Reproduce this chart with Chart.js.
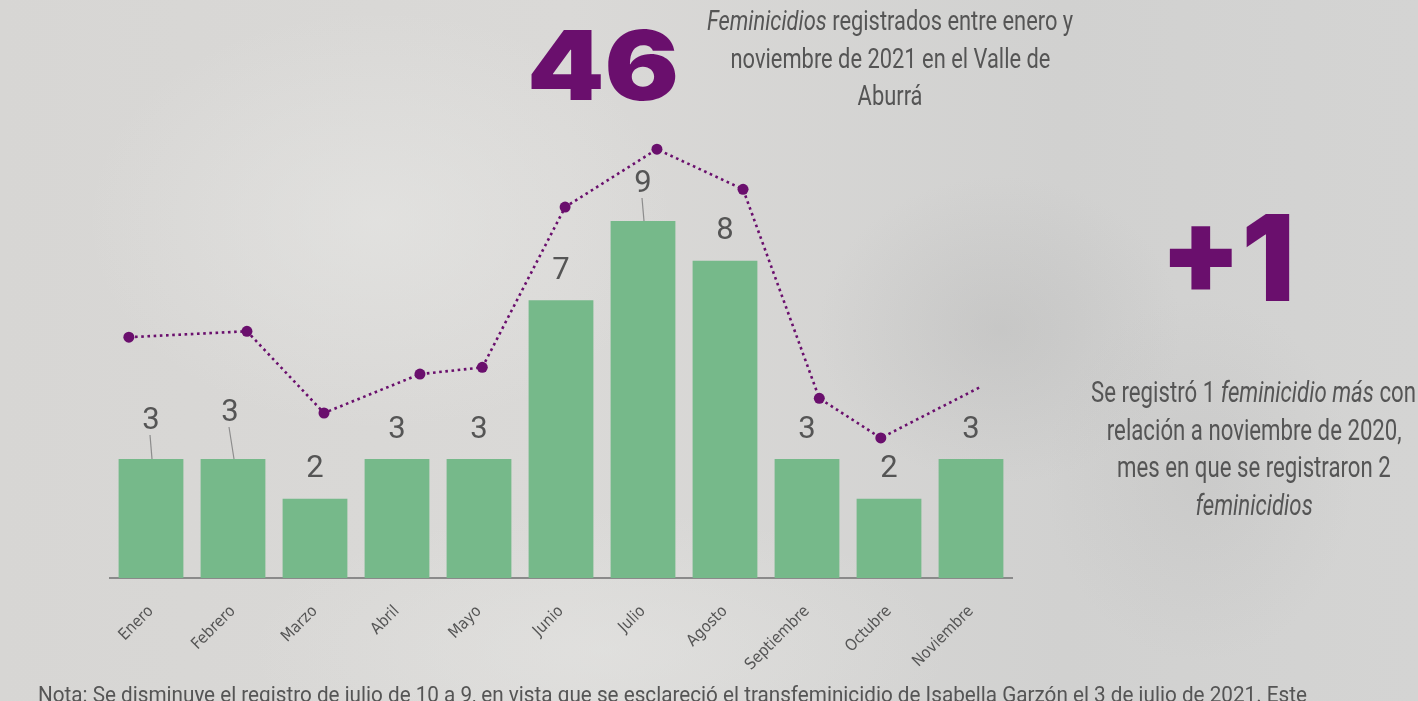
<!DOCTYPE html>
<html lang="es">
<head>
<meta charset="utf-8">
<title>Feminicidios Valle de Aburrá 2021</title>
<script src="https://cdn.jsdelivr.net/npm/chart.js@4.4.1/dist/chart.umd.min.js"></script>
<style>
    html, body {
        margin: 0;
        padding: 0;
        width: 1418px;
        height: 701px;
        overflow: hidden;
    }
    body {
        position: relative;
        font-family: Roboto, sans-serif;
        color: #555;
        background:
            radial-gradient(ellipse 260px 220px at 1000px 330px, rgba(170,170,170,0.28), rgba(170,170,170,0) 70%),
            radial-gradient(ellipse 220px 260px at 1200px 480px, rgba(175,175,175,0.22), rgba(175,175,175,0) 70%),
            radial-gradient(ellipse 420px 300px at 380px 220px, rgba(232,232,230,0.55), rgba(232,232,230,0) 70%),
            radial-gradient(ellipse 500px 200px at 600px 650px, rgba(230,230,228,0.5), rgba(230,230,228,0) 70%),
            linear-gradient(90deg, #d7d6d4 0%, #dad9d7 40%, #d1d1d0 75%, #d4d4d3 100%);
    }
    #chart-wrap {
        position: absolute;
        left: 0;
        top: 0;
        width: 1418px;
        height: 701px;
    }
    .big {
        position: absolute;
        font-family: Inter, Lato, 'DejaVu Sans', sans-serif;
        font-weight: 900;
        color: #6a0f6d;
        line-height: 1;
        transform-origin: left top;
    }
    .big-46 {
        left: 527px;
        top: 17px;
        font-size: 96px;
        transform: scaleX(1.15);
    }
    .big-plus {
        left: 1160px;
        top: 198px;
        font-size: 120px;
        transform: scaleX(0.98);
    }
    .block {
        position: absolute;
        width: 600px;
        text-align: center;
        color: #555;
    }
    .block div {
        white-space: nowrap;
    }
    .block span.ln {
        display: inline-block;
        transform-origin: center;
    }
    .block-top {
        left: 590px;
        top: 3px;
        font-size: 27px;
        line-height: 37.5px;
    }
    .block-top span.ln {
        transform: scaleX(0.81);
    }
    .block-right {
        left: 954px;
        top: 373px;
        font-size: 30px;
        line-height: 37.5px;
    }
    .block-right span.ln {
        transform: scaleX(0.74);
    }
    .nota {
        position: absolute;
        left: 38px;
        top: 682px;
        font-size: 22px;
        white-space: nowrap;
        color: #555;
        transform: scaleX(0.94);
        transform-origin: left top;
    }
</style>
</head>
<body>
<div id="chart-wrap"><canvas id="feminicidiosChart"></canvas></div>

<div class="big big-46">46</div>
<div class="block block-top">
    <div><span class="ln"><i>Feminicidios</i> registrados entre enero y</span></div>
    <div><span class="ln">noviembre de 2021 en el Valle de</span></div>
    <div><span class="ln">Aburrá</span></div>
</div>

<div class="big big-plus">+1</div>
<div class="block block-right">
    <div><span class="ln">Se registró 1 <i>feminicidio más</i> con</span></div>
    <div><span class="ln">relación a noviembre de 2020,</span></div>
    <div><span class="ln">mes en que se registraron 2</span></div>
    <div><span class="ln"><i>feminicidios</i></span></div>
</div>

<div class="nota">Nota: Se disminuye el registro de julio de 10 a 9, en vista que se esclareció el transfeminicidio de Isabella Garzón el 3 de julio de 2021. Este</div>

<script>
// data srt
const meses = ['Enero', 'Febrero', 'Marzo', 'Abril', 'Mayo', 'Junio', 'Julio', 'Agosto', 'Septiembre', 'Octubre', 'Noviembre'];
const casos2021 = [3, 3, 2, 3, 3, 7, 9, 8, 3, 2, 3];

// dotted decorative trend line (x in month index units, y in bar units)
const lineaX = [-0.27, 1.17, 2.11, 3.28, 4.04, 5.05, 6.17, 7.22, 8.15, 8.90, 10.11];
const lineaY = [6.07, 6.22, 4.16, 5.14, 5.31, 9.35, 10.81, 9.80, 4.53, 3.53, 4.81];
// data end

const purple = '#6a0f6d';
const barGreen = '#76b98a';
const textGrey = '#555555';

const lineaPuntos = lineaX.map((x, i) => ({ x: x, y: lineaY[i] }));

// labels above bars, some lifted with a little leader line
const labelTweaks = {
    0: { lift: 9, dx: 0, leader: true },
    1: { lift: 17, dx: -3, leader: true },
    6: { lift: 8, dx: 0, leader: true }
};

const barLabels = {
    id: 'barLabels',
    afterDatasetsDraw(chart) {
        const ctx = chart.ctx;
        const meta = chart.getDatasetMeta(0);
        ctx.save();
        ctx.font = '31px Roboto, sans-serif';
        ctx.fillStyle = textGrey;
        ctx.textAlign = 'center';
        ctx.textBaseline = 'middle';
        meta.data.forEach((bar, i) => {
            const t = labelTweaks[i] || { lift: 0, dx: 0, leader: false };
            const lx = bar.x + t.dx;
            const ly = bar.y - 29 - t.lift;
            ctx.fillText(String(casos2021[i]), lx, ly);
            if (t.leader) {
                ctx.strokeStyle = '#8c8c8c';
                ctx.lineWidth = 1.2;
                ctx.beginPath();
                ctx.moveTo(lx - 1, ly + 14);
                ctx.lineTo(bar.x + 1, bar.y);
                ctx.stroke();
            }
        });
        ctx.restore();
    }
};

const ctx = document.getElementById('feminicidiosChart').getContext('2d');

const chart = new Chart(ctx, {
    type: 'bar',
    data: {
        labels: meses,
        datasets: [
            {
                label: '2021',
                data: casos2021,
                backgroundColor: barGreen,
                borderWidth: 0,
                grouped: false,
                barPercentage: 0.79,
                categoryPercentage: 1,
                order: 2
            },
            {
                type: 'line',
                label: 'tendencia',
                data: lineaPuntos,
                xAxisID: 'x2',
                borderColor: purple,
                borderWidth: 2.6,
                borderDash: [2.6, 3.6],
                pointBackgroundColor: purple,
                pointBorderWidth: 0,
                pointRadius: lineaX.map((x, i) => i === lineaX.length - 1 ? 0 : 5.5),
                tension: 0,
                fill: false,
                order: 1
            }
        ]
    },
    options: {
        responsive: true,
        maintainAspectRatio: false,
        animation: false,
        layout: {
            padding: { left: 110, right: 406, top: 102, bottom: 23 }
        },
        plugins: {
            legend: { display: false },
            tooltip: { enabled: false }
        },
        scales: {
            x: {
                type: 'category',
                offset: true,
                grid: { display: false },
                border: { color: '#8a8a8a', width: 2 },
                ticks: {
                    color: textGrey,
                    maxRotation: 45,
                    minRotation: 45,
                    padding: 16,
                    font: { family: "'Liberation Sans Narrow', 'DejaVu Sans Condensed', Roboto, sans-serif", size: 16 }
                },
                afterFit(scale) {
                    scale.height = 100;
                }
            },
            x2: {
                type: 'linear',
                display: false,
                offset: false,
                min: -0.5,
                max: 10.5
            },
            y: {
                display: false,
                min: 0,
                max: 12
            }
        }
    },
    plugins: [barLabels]
});
</script>
</body>
</html>
